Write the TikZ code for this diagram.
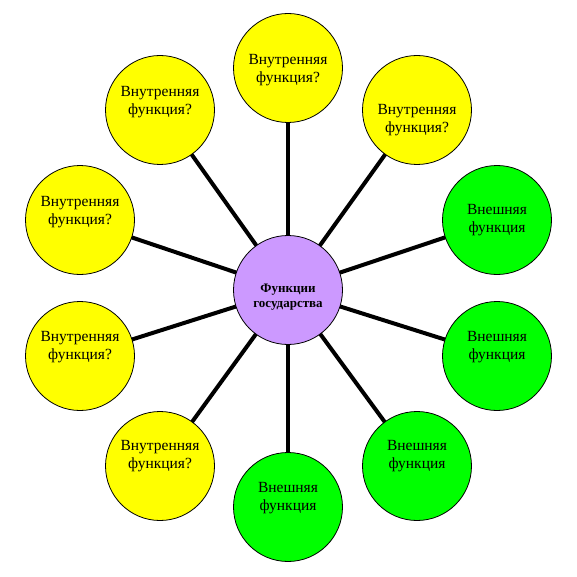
\documentclass[tikz,border=0pt]{standalone}
\usepackage{fontspec}
\setmainfont{Liberation Serif}
\usetikzlibrary{backgrounds}
\definecolor{zhelt}{HTML}{FFFF00}
\definecolor{zelen}{HTML}{00FF00}
\definecolor{siren}{HTML}{CC99FF}
\tikzset{
  krug/.style={circle, draw=black, line width=0.8pt, minimum size=109pt, inner sep=0pt},
  tekst/.style={align=center, font=\fontsize{15.5}{17.5}\selectfont, inner sep=0pt},
  luch/.style={line width=4pt, black}
}
\begin{document}
\begin{tikzpicture}[x=1pt,y=-1pt]
    % Khung
    \useasboundingbox (0,0) rectangle (577,577);
    % Tam
    \node[krug, fill=siren] (centr) at (288,290) {};
    \node[tekst, font=\fontsize{13}{15}\selectfont\bfseries] (centrt) at ([yshift=-7pt]centr.center) {Функции\\государства};
    % Cac vong tron ngoai
    \foreach \ten/\x/\y/\mau/\dich/\chu in {
        f1/288/68/zhelt/-2/{Внутренняя\\функция?},
        f2/417/110/zhelt/-10/{Внутренняя\\функция?},
        f3/497/220/zelen/0/{Внешняя\\функция},
        f4/497/356/zelen/9/{Внешняя\\функция},
        f5/417/466/zelen/10/{Внешняя\\функция},
        f6/288/507/zelen/9/{Внешняя\\функция},
        f7/160/466/zhelt/10/{Внутренняя\\функция?},
        f8/80/356/zhelt/9/{Внутренняя\\функция?},
        f9/80/220/zhelt/8/{Внутренняя\\функция?},
        f10/160/110/zhelt/8/{Внутренняя\\функция?}}
    {
        \node[krug, fill=\mau] (\ten) at (\x,\y) {};
        \node[tekst] (\ten t) at ([yshift=\dich pt]\ten.center) {\chu};
    }
    % Tia
    \begin{scope}[on background layer]
    \foreach \ten in {f1,f2,f3,f4,f5,f6,f7,f8,f9,f10}
        \draw[luch] (centr.center) -- (\ten.center);
    \end{scope}
\end{tikzpicture}
\end{document}
